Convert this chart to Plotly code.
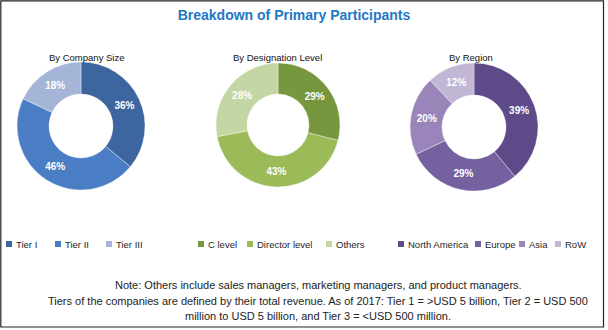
import plotly.graph_objects as go

W, H = 608, 330

company_labels = ["Tier I", "Tier II", "Tier III"]
company_values = [36, 46, 18]
company_colors = ["#3D66A1", "#4A7DC4", "#A4B5D8"]

designation_labels = ["C level", "Director level", "Others"]
designation_values = [29, 43, 28]
designation_colors = ["#76973D", "#9BBB59", "#C4D6A4"]

region_labels = ["North America", "Europe", "Asia", "RoW"]
region_values = [39, 29, 20, 12]
region_colors = ["#5E4A88", "#7560A0", "#9985B9", "#C1B7D4"]

title_text = "Breakdown of Primary Participants"
subtitles = ["By Company Size", "By Designation Level", "By Region"]
note_lines = [
    "Note: Others include sales managers, marketing managers, and product managers.",
    "Tiers of the companies are defined by their total revenue. As of 2017: Tier 1 = >USD 5 billion, Tier 2 = USD 500",
    "million to USD 5 billion, and Tier 3 = <USD 500 million.",
]

FONT = "Liberation Sans, Arial, sans-serif"


def px_dom(x0, x1, y0, y1):
    return dict(x=[x0 / W, x1 / W], y=[1 - y1 / H, 1 - y0 / H])


def px(x, y):
    return x / W, 1 - y / H


fig = go.Figure()

groups = [
    (company_labels, company_values, company_colors, px_dom(17, 145, 62, 190), [6, 55, 106]),
    (designation_labels, designation_values, designation_colors, px_dom(216, 340, 63, 187), [198, 247, 326]),
    (region_labels, region_values, region_colors, px_dom(410, 538, 63, 191), [398, 475, 519, 555]),
]
LEG_Y = 244
SQ = 6
for labels, values, colors, dom, leg_x in groups:
    fig.add_trace(go.Pie(
        labels=labels, values=values, hole=0.5, sort=False, direction="clockwise",
        rotation=0, domain=dom, showlegend=False,
        marker=dict(colors=colors, line=dict(color="rgba(255,255,255,0.6)", width=0.6)),
        texttemplate="%{value}%", textposition="inside", insidetextorientation="horizontal",
        textfont=dict(family=FONT, size=10, color="white", weight="bold"),
        hoverinfo="label+value",
    ))
    # legend: colour square + label per slice
    for lab, col, lx in zip(labels, colors, leg_x):
        x0, y0 = px(lx, LEG_Y + SQ / 2)
        x1, y1 = px(lx + SQ, LEG_Y - SQ / 2)
        fig.add_shape(type="rect", xref="paper", yref="paper", x0=x0, x1=x1, y0=y0, y1=y1,
                      fillcolor=col, line=dict(width=0))
        tx, ty = px(lx + SQ + 2, LEG_Y)
        fig.add_annotation(text=lab, x=tx, y=ty, xref="paper", yref="paper",
                           xanchor="left", yanchor="middle", showarrow=False,
                           font=dict(family=FONT, size=9.5, color="#262626"))

fig.update_layout(
    width=W, height=H, margin=dict(l=0, r=0, t=0, b=0, autoexpand=False),
    paper_bgcolor="white", plot_bgcolor="white",
    showlegend=False,
    title=dict(text="<b>" + title_text + "</b>", x=294 / W, xanchor="center", y=1 - 15 / H, yanchor="middle",
               font=dict(family=FONT, size=14, color="#1F77C4")),
)

sub_x = [87, 277, 471]
for sx, st in zip(sub_x, subtitles):
    fig.add_annotation(text=st, x=sx / W, y=1 - 57 / H, xref="paper", yref="paper",
                       xanchor="center", yanchor="middle", showarrow=False,
                       font=dict(family=FONT, size=9.5, color="#111111"))

note_y = [285, 301, 316]
for ny, nt in zip(note_y, note_lines):
    fig.add_annotation(text=nt, x=318 / W, y=1 - ny / H, xref="paper", yref="paper",
                       xanchor="center", yanchor="middle", showarrow=False,
                       font=dict(family=FONT, size=11, color="#222222"))

fig.add_shape(type="rect", xref="paper", yref="paper", x0=0.8 / W, x1=603.5 / W,
              y0=1 - 327 / H, y1=1 - 0.8 / H, line=dict(color="#222222", width=1.2))

fig.write_html("out.html")
